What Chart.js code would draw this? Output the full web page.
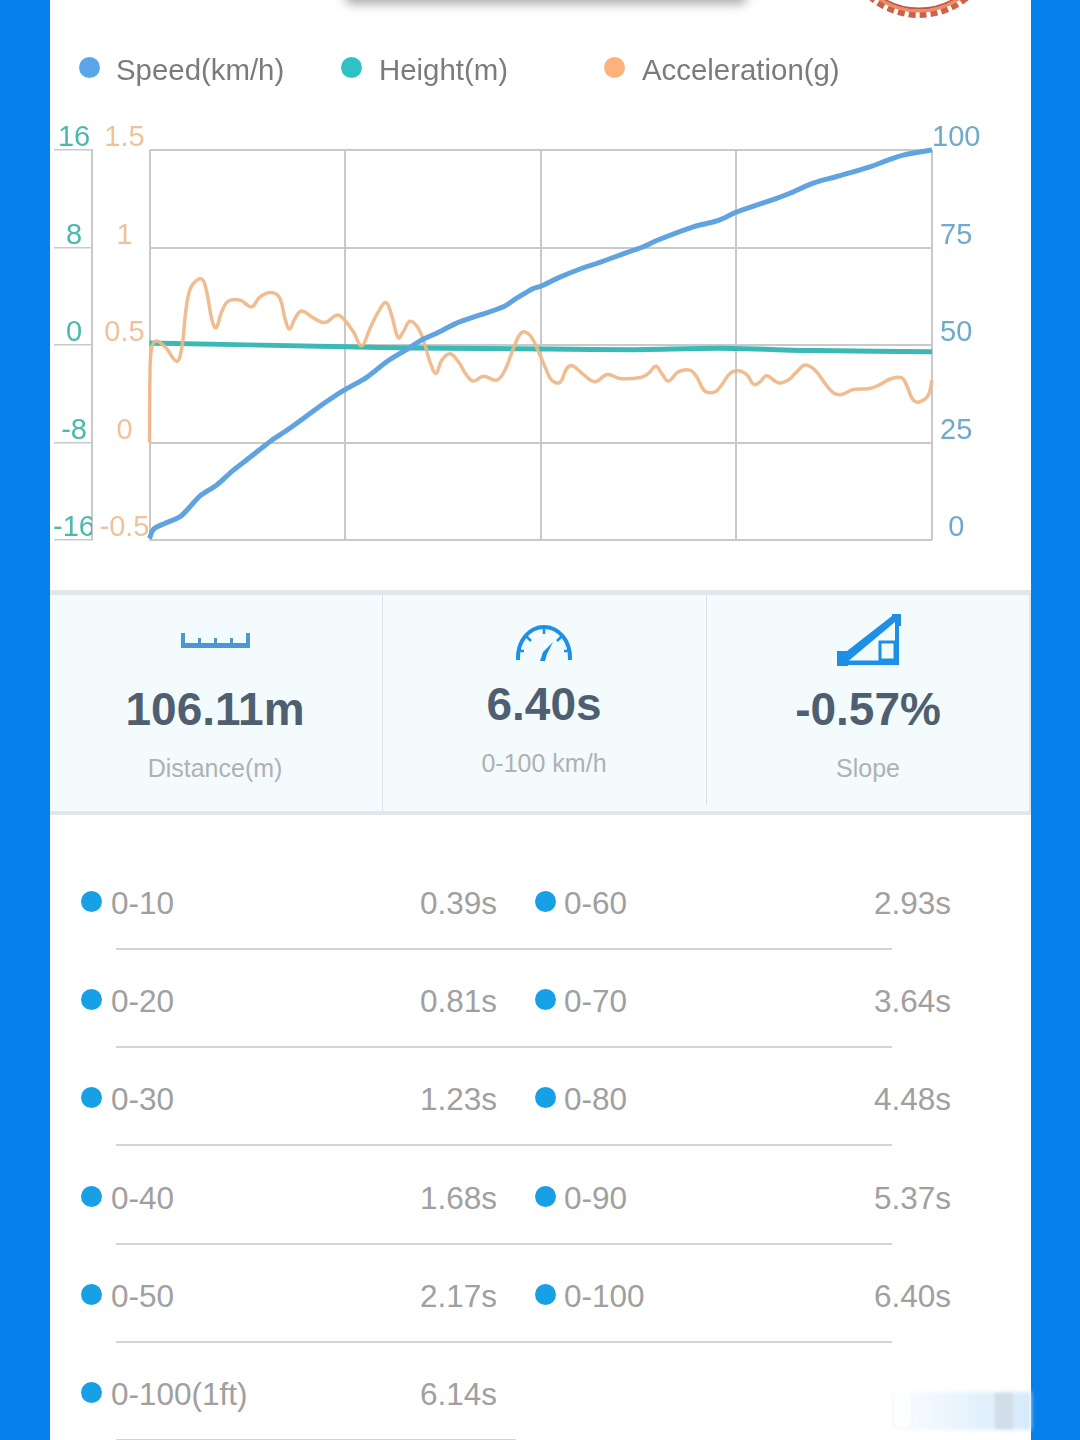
<!DOCTYPE html>
<html>
<head>
<meta charset="utf-8">
<title>Speed, height and acceleration</title>
<script src="https://cdn.jsdelivr.net/npm/chart.js@4"></script>
<style>
html,body{margin:0;padding:0;width:1080px;height:1440px;overflow:hidden;background:#fff;font-family:"Liberation Sans",Arial,sans-serif}
.abs{position:absolute;white-space:nowrap}
#chart{position:absolute;left:0;top:0;width:1080px;height:600px}
.strip{position:absolute;top:0;height:1440px;background:#0680ec}
.txt{position:absolute;white-space:nowrap;line-height:40px;height:40px}
.dot{position:absolute;border-radius:50%}
</style>
</head>
<body>
<div class="strip" style="left:0;width:50px"></div>
<div class="strip" style="left:1031px;width:49px"></div>

<div class="abs" style="left:345px;top:-12px;width:402px;height:12px;background:#666;border-radius:6px;box-shadow:0 3px 12px rgba(0,0,0,.4)"></div>
<svg class="abs" style="left:860px;top:0" width="120" height="24" viewBox="860 0 120 24">
  <circle cx="919" cy="-60" r="75" fill="none" stroke="#cf6246" stroke-width="6" stroke-dasharray="7 4"/>
  <circle cx="919" cy="-60" r="71" fill="none" stroke="#f08a68" stroke-width="3"/>
  <circle cx="919" cy="-60" r="68.500" fill="none" stroke="#c05a40" stroke-width="2"/>
</svg>

<canvas id="chart" width="1080" height="600"></canvas>
<div id="legend"></div>

<div class="abs" style="left:50px;top:590px;width:981px;height:5px;background:#e0e7ea"></div>
<div class="abs" style="left:50px;top:595px;width:981px;height:216px;background:#f3fbfd"></div>
<div class="abs" style="left:50px;top:811px;width:981px;height:4px;background:#e0e7ea"></div>
<div class="abs" style="left:382px;top:595px;width:1px;height:216px;background:#d9e2e6"></div>
<div class="abs" style="left:706px;top:595px;width:1px;height:210px;background:#d9e2e6"></div>
<div class="abs" style="left:1029px;top:595px;width:2px;height:216px;background:#e0e7ea"></div>

<svg class="abs" style="left:0;top:600px" width="1080" height="80" viewBox="0 600 1080 80">
  <path d="M181 633h4v10h13v-5h3v5h13v-5h3v5h13v-5h3v5h13v-10h4v15h-69z" fill="#4f97cf"/>
  <path d="M518 660 C517 640 530 627 544 627 C558 627 571 640 570 660" fill="none" stroke="#1e8fe6" stroke-width="4"/>
  <path d="M544 627v7M526 636l5 5M562 636l-5 5M518 651h6M570 651h-6" stroke="#1e8fe6" stroke-width="2.500" fill="none"/>
  <path d="M540 661l3-9 10-10-6 12-2 7z" fill="#1e8fe6"/>
  <path d="M892 614h9v12h-2v39h-51v1h-11v-15h10l45-35zM895 622L849 660.500H895z" fill="#1e8fe6" fill-rule="evenodd"/>
  <rect x="880" y="642" width="15" height="18" fill="none" stroke="#1e8fe6" stroke-width="3"/>
</svg>

<div id="stats"></div>
<div id="table"></div>

<div class="abs" style="left:885px;top:1392px;width:146px;height:38px;filter:blur(2px);background:linear-gradient(90deg,rgba(215,235,252,0),rgba(225,240,253,.6) 40%,rgba(210,232,251,.95))"></div>
<div class="abs" style="left:893px;top:1393px;width:20px;height:36px;border:1px solid #eef0f3;border-top:none;border-radius:0 0 8px 8px;box-sizing:border-box;background:rgba(255,255,255,.7);filter:blur(1px)"></div>
<div class="abs" style="left:995px;top:1393px;width:18px;height:36px;background:rgba(205,215,225,.75);filter:blur(1.5px)"></div>

<script>
const legendLabels = ["Speed(km/h)", "Height(m)", "Acceleration(g)"];
const accelTickLabels = {"-0.5": "-0.5", "0": "0", "0.5": "0.5", "1": "1", "1.5": "1.5"};

const speedTimes = [0,.031,.114,.25,.331,.413,.55,.686,.822,1.0,1.136,1.285,1.449,1.585,1.776,1.94,2.117,2.239,2.349,2.512,2.703,2.894,3.003,3.139,3.194,3.357,3.548,3.657,3.903,4.039,4.148,4.448,4.639,4.788,4.884,5.129,5.238,5.429,5.62,5.892,6.029,6.165,6.4];
const speedValues = [.4,2.7,4.1,6.0,8.5,11.3,14.1,17.9,21.2,25.6,28.4,31.8,35.5,38.3,41.7,45.7,49.1,51.5,53,55.6,57.7,59.8,62,64.5,65,67.4,69.8,70.9,73.7,75.2,76.8,80.3,81.8,83.9,85,87.6,88.9,91.5,93.2,95.7,97.3,98.7,100];

const heightTimes = [0,1.6,2.16,3.27,3.96,4.66,5.45,6.4];
const heightValues = [.16,-.14,-.25,-.33,-.38,-.27,-.46,-.55];

const accelTimes = [0,.004,.018,.053,.127,.222,.263,.29,.318,.358,.427,.468,.508,.544,.59,.645,.74,.836,.904,.999,1.067,1.108,1.144,1.19,1.244,1.34,1.435,1.531,1.585,1.667,1.735,1.803,1.871,1.934,1.98,2.035,2.076,2.13,2.199,2.253,2.294,2.343,2.39,2.458,2.526,2.594,2.649,2.73,2.839,2.907,2.976,3.044,3.112,3.194,3.235,3.289,3.357,3.412,3.461,3.548,3.644,3.744,3.848,4.025,4.08,4.142,4.189,4.243,4.325,4.42,4.475,4.543,4.625,4.679,4.748,4.816,4.884,4.944,4.993,5.047,5.143,5.225,5.293,5.361,5.443,5.525,5.593,5.661,5.756,5.892,5.974,6.07,6.151,6.192,6.247,6.301,6.37,6.4];
const accelValues = [0,.362,.482,.52,.491,.417,.482,.636,.756,.815,.838,.773,.636,.588,.67,.725,.73,.696,.747,.769,.738,.636,.581,.636,.674,.639,.615,.653,.636,.568,.496,.585,.67,.718,.653,.537,.568,.622,.585,.499,.414,.354,.422,.455,.414,.345,.315,.34,.32,.371,.482,.564,.55,.448,.388,.32,.308,.379,.393,.349,.311,.349,.328,.335,.354,.391,.354,.315,.362,.371,.337,.263,.26,.294,.354,.368,.349,.297,.311,.342,.306,.32,.362,.397,.371,.303,.255,.246,.272,.277,.297,.328,.332,.294,.217,.209,.243,.32];

const statValues = ["106.11m", "6.40s", "-0.57%"];
const statLabels = ["Distance(m)", "0-100 km/h", "Slope"];
const leftRanges = ["0-10","0-20","0-30","0-40","0-50","0-100(1ft)"];
const leftTimes = ["0.39s","0.81s","1.23s","1.68s","2.17s","6.14s"];
const rightRanges = ["0-60","0-70","0-80","0-90","0-100"];
const rightTimes = ["2.93s","3.64s","4.48s","5.37s","6.40s"];

const FONT = '"Liberation Sans", Arial, sans-serif';
const GRID = '#c9c9c9';
const pts = (xs, ys) => xs.map((x, i) => ({x, y: ys[i]}));
const fixedWidth = w => axis => { axis.width = w; };

new Chart(document.getElementById('chart'), {
  type: 'line',
  data: {
    datasets: [
      {label: legendLabels[0], data: pts(speedTimes, speedValues), yAxisID: 'ySpeed', borderColor: '#5fa3e0', borderWidth: 5, order: 1, pointRadius: 0, tension: .3, clip: 4},
      {label: legendLabels[2], data: pts(accelTimes, accelValues), yAxisID: 'yAccel', borderColor: 'rgba(238,183,135,.92)', borderWidth: 3.5, order: 2, pointRadius: 0, tension: .4, clip: 4},
      {label: legendLabels[1], data: pts(heightTimes, heightValues), yAxisID: 'yHeight', borderColor: '#3cb9b5', borderWidth: 5, order: 3, pointRadius: 0, tension: .2, clip: 4}
    ]
  },
  options: {
    responsive: false,
    animation: false,
    devicePixelRatio: 1,
    layout: {padding: {left: 54, right: 100, top: 150, bottom: 60}},
    plugins: {legend: {display: false}, tooltip: {enabled: false}},
    scales: {
      x: {
        type: 'linear', min: 0, max: 6.4,
        ticks: {display: false, stepSize: 1.6},
        grid: {color: GRID, lineWidth: 2, drawTicks: false},
        border: {display: false}
      },
      yHeight: {
        position: 'left', weight: 2, min: -16, max: 16, afterFit: fixedWidth(38),
        ticks: {stepSize: 8, color: '#4db8ae', font: {family: FONT, size: 29}, crossAlign: 'center', padding: -41, labelOffset: -12},
        grid: {drawOnChartArea: false, color: GRID, lineWidth: 1.5, tickLength: 38},
        border: {display: true, color: GRID, width: 2}
      },
      yAccel: {
        position: 'left', weight: 1, min: -.5, max: 1.5, afterFit: fixedWidth(57.5),
        ticks: {stepSize: .5, color: '#efc29a', font: {family: FONT, size: 29}, crossAlign: 'center', padding: 0, labelOffset: -12,
                callback: v => accelTickLabels[String(v)]},
        grid: {display: false, drawTicks: false},
        border: {display: false}
      },
      ySpeed: {
        position: 'right', min: 0, max: 100, afterFit: fixedWidth(48),
        ticks: {stepSize: 25, color: '#6daacb', font: {family: FONT, size: 29}, crossAlign: 'center', padding: 0, labelOffset: -12},
        grid: {color: GRID, lineWidth: 2, drawTicks: false},
        border: {display: false}
      }
    }
  }
});

const add = (parent, cls, style, text) => {
  const el = document.createElement('div');
  el.className = cls;
  el.style.cssText = style;
  if (text !== undefined) el.textContent = text;
  parent.appendChild(el);
};

const legend = document.getElementById('legend');
const legendColors = ['#5ba5ea', '#2fc1c6', '#fdb27b'];
const legendDotX = [89, 351, 614];
const legendTextX = [116, 379, 642];
legendLabels.forEach((t, i) => {
  add(legend, 'dot', `left:${legendDotX[i]-10.5}px;top:57px;width:21px;height:21px;background:${legendColors[i]}`);
  add(legend, 'txt', `left:${legendTextX[i]}px;top:50px;font-size:29.4px;color:#7b7b7b`, t);
});

const stats = document.getElementById('stats');
const statCenter = [215, 544, 868];
const valueTop = [689, 684, 689];
const labelTop = [748, 743, 748];
statValues.forEach((t, i) => {
  add(stats, 'txt', `left:${statCenter[i]-150}px;width:300px;text-align:center;top:${valueTop[i]}px;font-size:46px;font-weight:bold;color:#4f5f6f`, t);
  add(stats, 'txt', `left:${statCenter[i]-150}px;width:300px;text-align:center;top:${labelTop[i]}px;font-size:25px;color:#aeb2b4`, statLabels[i]);
});

const table = document.getElementById('table');
const row = (dotX, textX, valueRight, y, range, time) => {
  add(table, 'dot', `left:${dotX-10.5}px;top:${y-11}px;width:21px;height:21px;background:#17a0e6`);
  add(table, 'txt', `left:${textX}px;top:${y-19}px;font-size:31.5px;color:#a0a0a0`, range);
  add(table, 'txt', `left:${valueRight-200}px;width:200px;text-align:right;top:${y-19}px;font-size:31.5px;color:#a0a0a0`, time);
};
leftRanges.forEach((r, i) => {
  const y = 902 + 98.2 * i;
  row(91, 111, 497, y, r, leftTimes[i]);
  add(table, 'abs', `left:116px;top:${Math.round(y+46)}px;height:2px;width:${i === 5 ? 400 : 776}px;background:#d4d4d4`);
});
rightRanges.forEach((r, i) => {
  row(545, 564, 951, 902 + 98.2 * i, r, rightTimes[i]);
});
</script>
</body>
</html>
